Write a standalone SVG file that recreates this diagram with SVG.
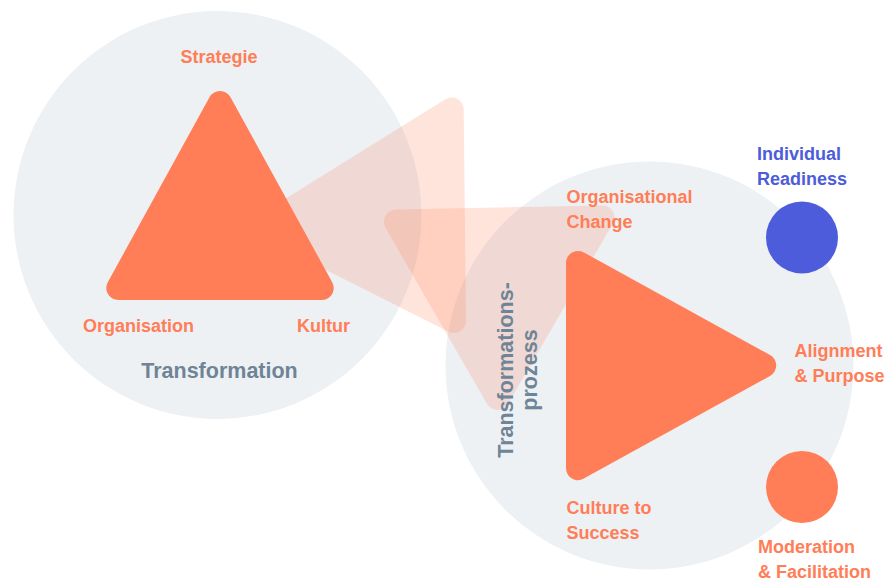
<svg xmlns="http://www.w3.org/2000/svg" width="891" height="581" viewBox="0 0 891 581">
  <style>
    .bg { fill: #EDF1F4; }
    .tri { fill: #FF7D57; stroke: #FF7D57; stroke-width: 24; stroke-linejoin: round; }
    .ghost { fill: #FF7D57; stroke: #FF7D57; stroke-width: 24; stroke-linejoin: round; opacity: 0.2; }
    text { font-family: "Liberation Sans", Arial, sans-serif; font-weight: bold; }
    .lbl { font-size: 18px; fill: #FF7D57; }
    .blue { font-size: 18px; fill: #4C5CDB; }
    .title { font-size: 21.5px; fill: #6F8496; }
  </style>
  <rect width="891" height="581" fill="#FFFFFF"/>

  <g id="transformation">
    <circle class="bg" cx="217.5" cy="215" r="204"/>
  </g>
  <g id="transformationsprozess">
    <circle class="bg" cx="649.5" cy="365.5" r="204"/>
  </g>

  <g id="connectors">
    <polygon class="ghost" points="264.8,225.7 451.7,109.5 454,321"/>
    <polygon class="ghost" points="395.8,221.6 602.5,217.4 497.5,398"/>
  </g>

  <g id="transformation-triangle">
    <polygon class="tri" points="220,103 118.3,288 321.7,288"/>
    <text class="lbl" x="219" y="63" text-anchor="middle">Strategie</text>
    <text class="lbl" x="83" y="332">Organisation</text>
    <text class="lbl" x="297" y="332">Kultur</text>
    <text class="title" x="219.5" y="378" text-anchor="middle">Transformation</text>
  </g>

  <g id="prozess-triangle">
    <polygon class="tri" points="578,262.9 764.2,365.5 578,468.1"/>
    <text class="title" transform="translate(513,370) rotate(-90)" text-anchor="middle">Transformations-<tspan x="0" dy="24">prozess</tspan></text>
    <text class="lbl" x="566.5" y="203.3">Organisational<tspan x="566.5" dy="25">Change</tspan></text>
    <text class="lbl" x="566.5" y="514.3">Culture to<tspan x="566.5" dy="25">Success</tspan></text>
    <text class="lbl" x="794.5" y="356.5">Alignment<tspan x="794.5" dy="25">&amp; Purpose</tspan></text>
  </g>

  <g id="individual-readiness">
    <circle cx="802" cy="237.5" r="36" fill="#4C5CDB"/>
    <text class="blue" x="757" y="160">Individual<tspan x="757" dy="25">Readiness</tspan></text>
  </g>

  <g id="moderation-facilitation">
    <circle cx="802" cy="487" r="36" fill="#FF7D57"/>
    <text class="lbl" x="758" y="552.5">Moderation<tspan x="758" dy="25">&amp; Facilitation</tspan></text>
  </g>
</svg>
